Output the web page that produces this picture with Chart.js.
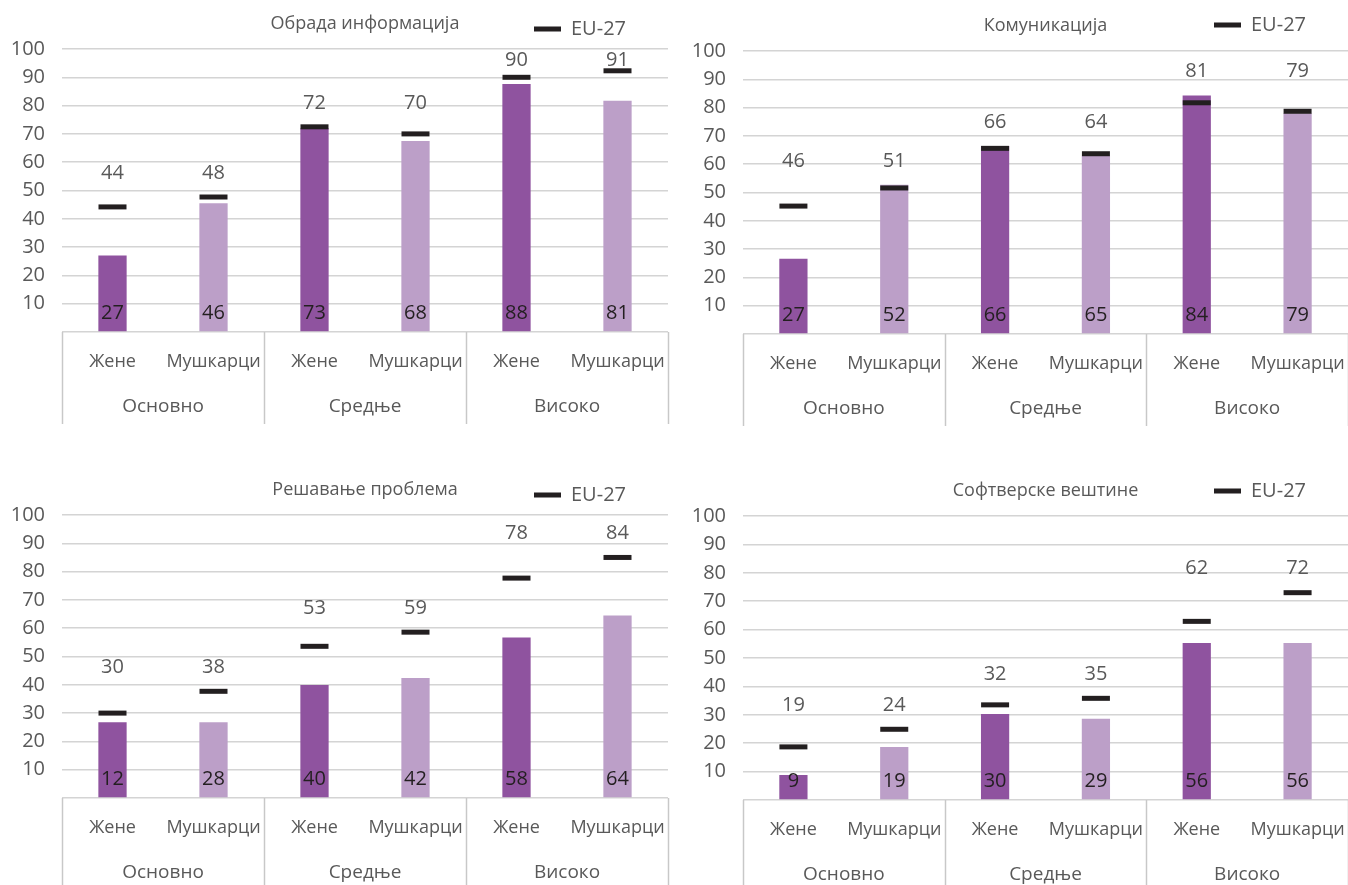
<!DOCTYPE html>
<html>
<head>
<meta charset="utf-8">
<script src="https://cdn.jsdelivr.net/npm/chart.js@4.4.1/dist/chart.umd.min.js"></script>
<style>
  body { margin: 0; background: #fff; }
  .panel { position: absolute; }
</style>
</head>
<body>
<div class="panel" style="left:0;top:0;width:674px;height:440px"><canvas id="c1"></canvas></div>
<div class="panel" style="left:674px;top:0;width:674px;height:440px"><canvas id="c2"></canvas></div>
<div class="panel" style="left:0;top:440px;width:674px;height:445px"><canvas id="c3"></canvas></div>
<div class="panel" style="left:674px;top:440px;width:674px;height:445px"><canvas id="c4"></canvas></div>
<script>
// categories
const subLabels = ["Жене", "Мушкарци", "Жене", "Мушкарци", "Жене", "Мушкарци"];
const groupLabels = ["Основно", "Средње", "Високо"];
const legendLabel = "EU-27";

// Обрада информација
const infoBars = [27, 45.5, 72, 67.5, 87.6, 81.7];
const infoBarLabels = [27, 46, 73, 68, 88, 81];
const infoEu = [44.2, 47.7, 72.5, 70, 90, 92.3];
const infoEuLabels = [44, 48, 72, 70, 90, 91];

// Комуникација
const commBars = [26.6, 52.7, 66.4, 63, 84.3, 78];
const commBarLabels = [27, 52, 66, 65, 84, 79];
const commEu = [45.2, 51.6, 65.6, 63.7, 81.7, 78.7];
const commEuLabels = [46, 51, 66, 64, 81, 79];

// Решавање проблема
const probBars = [26.8, 26.8, 39.9, 42.4, 56.7, 64.5];
const probBarLabels = [12, 28, 40, 42, 58, 64];
const probEu = [30, 37.7, 53.6, 58.6, 77.7, 85];
const probEuLabels = [30, 38, 53, 59, 78, 84];

// Софтверске вештине
const softBars = [8.8, 18.7, 30.3, 28.6, 55.3, 55.3];
const softBarLabels = [9, 19, 30, 29, 56, 56];
const softEu = [18.7, 24.9, 33.5, 35.8, 62.9, 73];
const softEuLabels = [19, 24, 32, 35, 62, 72];

const yTicks = [10, 20, 30, 40, 50, 60, 70, 80, 90, 100];

const FONT = "'Open Sans', sans-serif";
const GREY = "#595959";
const DARK = "#231f20";
const barColors = ["#8f539f", "#bc9fc8", "#8f539f", "#bc9fc8", "#8f539f", "#bc9fc8"];

function makeChart(id, title, bars, barLabels, eu, euLabels, lay) {
  const decor = {
    id: "decor" + id,
    afterDraw(chart) {
      const ctx = chart.ctx;
      const area = chart.chartArea;
      const x = chart.scales.x;
      const y = chart.scales.y;
      const slot = x.getPixelForValue(1) - x.getPixelForValue(0);
      ctx.save();

      // title + legend
      ctx.fillStyle = GREY;
      ctx.textAlign = "center";
      ctx.textBaseline = "middle";
      ctx.font = "18px " + FONT;
      ctx.fillText(title, (area.left + area.right) / 2, area.top - 25);
      const lx = area.right - 134;
      const ly = area.top - lay.legendDy;
      ctx.fillStyle = DARK;
      ctx.fillRect(lx, ly - 2.5, 27, 5);
      ctx.fillStyle = GREY;
      ctx.textAlign = "left";
      ctx.font = "20px " + FONT;
      ctx.fillText(legendLabel, lx + 37, ly);

      // EU labels, aligned within each group
      ctx.textAlign = "center";
      for (let g = 0; g < groupLabels.length; g++) {
        const i = g * 2;
        const top = Math.max(bars[i], bars[i + 1], eu[i], eu[i + 1]);
        const ty = Math.max(y.getPixelForValue(top) - 24, area.top + 11);
        ctx.fillText(euLabels[i], x.getPixelForValue(i), ty);
        ctx.fillText(euLabels[i + 1], x.getPixelForValue(i + 1), ty);
      }

      // bar value labels at the foot of each bar
      ctx.fillStyle = DARK;
      const by = y.getPixelForValue(0) - 19;
      barLabels.forEach((v, i) => ctx.fillText(v, x.getPixelForValue(i), by));

      // group separators and group names
      ctx.strokeStyle = "#c8c8c8";
      ctx.lineWidth = 1.5;
      const y0 = area.bottom;
      const y1 = Math.min(area.bottom + 92, chart.height);
      for (let g = 0; g <= groupLabels.length; g++) {
        const sx = Math.round(x.getPixelForValue(g * 2) - slot / 2) + 0.5;
        ctx.beginPath();
        ctx.moveTo(sx, y0);
        ctx.lineTo(sx, y1);
        ctx.stroke();
      }
      ctx.fillStyle = GREY;
      ctx.font = "19px " + FONT;
      groupLabels.forEach((lab, g) => {
        const cx = (x.getPixelForValue(g * 2) + x.getPixelForValue(g * 2 + 1)) / 2;
        ctx.fillText(lab, cx, area.bottom + 75);
      });
      ctx.restore();
    }
  };

  return new Chart(document.getElementById(id), {
    data: {
      labels: subLabels,
      datasets: [
        {
          type: "line",
          label: legendLabel,
          data: eu,
          showLine: false,
          pointStyle: "line",
          pointRadius: 14,
          pointHoverRadius: 14,
          pointBorderWidth: 5,
          pointBorderColor: DARK,
          pointBackgroundColor: DARK,
          order: 0
        },
        {
          type: "bar",
          label: title,
          data: bars,
          backgroundColor: barColors,
          barPercentage: 0.28,
          categoryPercentage: 1,
          order: 1
        }
      ]
    },
    options: {
      responsive: true,
      maintainAspectRatio: false,
      animation: false,
      layout: { autoPadding: false, padding: { top: lay.top, right: lay.right, left: 0, bottom: 0 } },
      plugins: { legend: { display: false }, title: { display: false }, tooltip: { enabled: false } },
      scales: {
        x: {
          grid: { display: false, drawTicks: true, tickLength: 19 },
          border: { display: false },
          ticks: { color: GREY, font: { family: FONT, size: 18 }, padding: 0, autoSkip: false, maxRotation: 0 },
          afterFit(scale) {
            scale.height = lay.bottom;
            scale.paddingLeft = 0;
            scale.paddingRight = 0;
          }
        },
        y: {
          min: 0,
          max: 100,
          afterBuildTicks(scale) { scale.ticks = [0].concat(yTicks).map(v => ({ value: v })); },
          grid: { color: "#d4d4d4", lineWidth: 1.5, drawTicks: false },
          border: { display: false },
          ticks: {
            color: GREY,
            font: { family: FONT, size: 20 },
            padding: 17,
            callback: v => (v === 0 ? "" : v)
          },
          afterFit(scale) { scale.width = lay.left; }
        }
      }
    },
    plugins: [decor]
  });
}

makeChart("c1", "Обрада информација", infoBars, infoBarLabels, infoEu, infoEuLabels,
  { top: 49, right: 6, bottom: 108, left: 62, legendDy: 20 });
makeChart("c2", "Комуникација", commBars, commBarLabels, commEu, commEuLabels,
  { top: 51, right: 0, bottom: 106, left: 69, legendDy: 26 });
makeChart("c3", "Решавање проблема", probBars, probBarLabels, probEu, probEuLabels,
  { top: 75, right: 6, bottom: 87, left: 62, legendDy: 20 });
makeChart("c4", "Софтверске вештине", softBars, softBarLabels, softEu, softEuLabels,
  { top: 76, right: 0, bottom: 85, left: 69, legendDy: 25 });
</script>
</body>
</html>
